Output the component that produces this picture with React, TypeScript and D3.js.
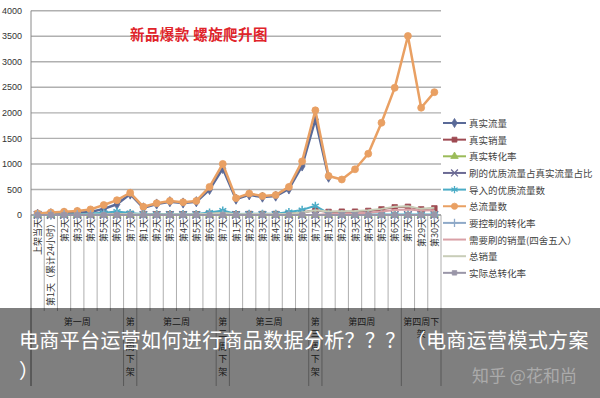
import * as d3 from "d3";

const W = 600;
const H = 398;

const categories = [
  "上架当天", "第1天（累计24小时）", "第2天", "第3天", "第4天", "第5天", "第6天", "第7天",
  "第1天", "第2天", "第3天", "第4天", "第5天", "第6天", "第7天",
  "第1天", "第2天", "第3天", "第4天", "第5天", "第6天", "第7天",
  "第1天", "第2天", "第3天", "第4天", "第5天", "第6天", "第7天", "第29天", "第30天",
];

const groupNames = ["第一周", "第一周下架", "第二周", "第二周下架", "第三周", "第三周下架", "第四周", "第四周下架"];
const groupSizes = [7, 1, 6, 1, 6, 1, 6, 3];

const yTicks = [0, 500, 1000, 1500, 2000, 2500, 3000, 3500, 4000];

// 总流量数
const totalTraffic = [30, 50, 65, 80, 110, 195, 290, 435, 160, 230, 275, 250, 275, 550, 1000, 330, 420, 370, 390, 550, 1050, 2050, 765, 695, 895, 1200, 1805, 2490, 3505, 2100, 2405];
// 真实流量
const realTraffic = [15, 25, 35, 45, 60, 120, 210, 410, 140, 215, 260, 235, 260, 500, 910, 310, 395, 350, 370, 510, 960, 1870, 740, null, null, null, null, null, null, null, null];
// 导入的优质流量数
const importedTraffic = [5, 5, 8, 10, 30, 45, 70, 40, 15, 15, 20, 20, 20, 50, 90, 20, 25, 25, 25, 60, 100, 180, 30, 10, 10, 10, 10, 10, 10, 10, 10];
// 真实销量
const realSales = [2, 3, 4, 5, 8, 10, 14, 20, 8, 12, 14, 13, 14, 25, 45, 15, 20, 18, 19, 25, 50, 95, 60, 65, 65, 80, 110, 150, 160, 110, 130];
// 需要刷的销量
const fakeSales = [0, 0, 0, 0, 0, 0, 0, 0, 0, 0, 0, 0, 0, 0, 0, 0, 0, 0, 0, 0, 0, 0, 20, 25, 30, 45, 70, 100, 110, 90, 95];
// 总销量
const totalSales = [2, 3, 4, 5, 8, 10, 14, 20, 8, 12, 14, 13, 14, 25, 45, 15, 20, 18, 19, 25, 50, 95, 70, 75, 80, 95, 120, 160, 170, 120, 140];
// 转化率类 (比例, 贴近 0)
const realConv = [0.1, 0.1, 0.1, 0.1, 0.1, 0.1, 0.1, 0.1, 0.1, 0.1, 0.1, 0.1, 0.1, 0.1, 0.1, 0.1, 0.1, 0.1, 0.1, 0.1, 0.1, 0.1, 0.1, 0.1, 0.1, 0.1, 0.1, 0.1, 0.1, 0.1, 0.1];
const fakeRatio = [0.3, 0.2, 0.2, 0.2, 0.5, 0.4, 0.3, 0.1, 0.1, 0.1, 0.1, 0.1, 0.1, 0.1, 0.1, 0.1, 0.1, 0.1, 0.1, 0.1, 0.1, 0.1, 0.1, 0.1, 0.1, 0.1, 0.1, 0.1, 0.1, 0.1, 0.1];
const targetConv = [0.1, 0.1, 0.1, 0.1, 0.1, 0.1, 0.1, 0.1, 0.1, 0.1, 0.1, 0.1, 0.1, 0.1, 0.1, 0.1, 0.1, 0.1, 0.1, 0.1, 0.1, 0.1, 0.1, 0.1, 0.1, 0.1, 0.1, 0.1, 0.1, 0.1, 0.1];
const totalConv = [0.1, 0.1, 0.1, 0.1, 0.1, 0.1, 0.1, 0.1, 0.1, 0.1, 0.1, 0.1, 0.1, 0.1, 0.1, 0.1, 0.1, 0.1, 0.1, 0.1, 0.1, 0.1, 0.1, 0.1, 0.1, 0.1, 0.1, 0.1, 0.1, 0.1, 0.1];

const series = [
  { name: "真实流量", color: "#5a6a98", symbol: d3.symbolDiamond, size: 30, fill: true, values: realTraffic, lw: 2.5 },
  { name: "真实销量", color: "#9e4a52", symbol: d3.symbolSquare, size: 30, fill: true, values: realSales, lw: 2 },
  { name: "真实转化率", color: "#9bbb59", symbol: d3.symbolTriangle, size: 30, fill: true, values: realConv, lw: 2 },
  { name: "刷的优质流量占真实流量占比", color: "#6b6a94", symbol: d3.symbolTimes || d3.symbolCross, size: 40, fill: false, values: fakeRatio, lw: 2 },
  { name: "导入的优质流量数", color: "#4bacc6", symbol: d3.symbolAsterisk || d3.symbolStar, size: 45, fill: false, values: importedTraffic, lw: 2 },
  { name: "总流量数", color: "#e9a063", symbol: d3.symbolCircle, size: 38, fill: true, values: totalTraffic, lw: 2.5 },
  { name: "要控制的转化率", color: "#8ea9c8", symbol: d3.symbolPlus || d3.symbolCross, size: 30, fill: false, values: targetConv, lw: 2 },
  { name: "需要刷的销量(四舍五入）", color: "#d9a0a6", symbol: null, size: 0, fill: false, values: fakeSales, lw: 2 },
  { name: "总销量", color: "#c8cdb8", symbol: null, size: 0, fill: false, values: totalSales, lw: 2 },
  { name: "实际总转化率", color: "#9a96a8", symbol: d3.symbolSquare, size: 25, fill: true, values: totalConv, lw: 2 },
];

const left = 31;
const right = 441;
const y0 = 215;
const yTop = 10.7;
const levelBottom = 311;
const groupBottom = 386;

const cjk = "'Noto Sans CJK SC', 'Noto Sans', sans-serif";

export default function App() {
  const x = d3.scaleBand<number>().domain(d3.range(categories.length)).range([left, right]).padding(0);
  const y = d3.scaleLinear().domain([0, 4000]).range([y0, yTop]);
  const cx = (i: number) => (x(i) as number) + x.bandwidth() / 2;

  const line = d3
    .line<number | null>()
    .defined((d) => d != null)
    .x((_, i) => cx(i))
    .y((d) => y(d as number));

  // group boundaries
  const groupStarts: number[] = [];
  let acc = 0;
  groupSizes.forEach((n) => {
    groupStarts.push(acc);
    acc += n;
  });

  const bw = x.bandwidth();
  const edgeX = (i: number) => left + bw * i;

  const groupFont = 9;

  return (
    <svg width={W} height={H} style={{ position: "absolute", left: 0, top: 0, background: "#fff" }}>
      <rect x={0} y={0} width={W} height={H} fill="#fff" />

      {/* gridlines */}
      {yTicks.map((t) => (
        <g key={t}>
          <line x1={left} x2={right} y1={y(t)} y2={y(t)} stroke={t === 0 ? "#8a8a8a" : "#b0b0b0"} strokeWidth={1.4} />
          <text x={22} y={y(t)} dy="0.35em" textAnchor="end" fontSize={9} fill="#333" fontFamily="'Liberation Sans', Arial, sans-serif">
            {t}
          </text>
        </g>
      ))}

      {/* y axis */}
      <line x1={left} x2={left} y1={yTop} y2={groupBottom} stroke="#8a8a8a" strokeWidth={1} />

      {/* category separators */}
      {d3.range(categories.length + 1).map((i) => {
        const isGroupEdge = groupStarts.includes(i) || i === categories.length;
        return (
          <line
            key={"sep" + i}
            x1={edgeX(i)}
            x2={edgeX(i)}
            y1={y0}
            y2={isGroupEdge ? groupBottom : levelBottom}
            stroke="#9a9a9a"
            strokeWidth={0.8}
          />
        );
      })}

      {/* category labels */}
      {categories.map((c, i) => (
        <text
          key={"cat" + i}
          transform={`translate(${cx(i)},${y0 + 4}) rotate(-90)`}
          textAnchor="end"
          dominantBaseline="central"
          fontSize={9}
          fill="#333"
          fontFamily={cjk}
        >
          {c}
        </text>
      ))}

      {/* group labels */}
      {groupNames.map((g, k) => {
        const x0 = edgeX(groupStarts[k]);
        const w = bw * groupSizes[k];
        const perLine = Math.max(1, Math.floor((w - 2) / groupFont));
        const chars = Array.from(g);
        const lines: string[] = [];
        for (let j = 0; j < chars.length; j += perLine) lines.push(chars.slice(j, j + perLine).join(""));
        return (
          <text key={"grp" + k} textAnchor="middle" fontSize={groupFont} fill="#333" fontFamily={cjk}>
            {lines.map((l, j) => (
              <tspan key={j} x={x0 + w / 2} y={321 + j * 12.5} dominantBaseline="central">
                {l}
              </tspan>
            ))}
          </text>
        );
      })}

      {/* series */}
      {series.map((s) => {
        const sym = s.symbol ? d3.symbol().type(s.symbol).size(s.size)() : null;
        return (
          <g key={s.name}>
            <path d={line(s.values) || ""} fill="none" stroke={s.color} strokeWidth={s.lw} strokeLinejoin="round" />
            {sym &&
              s.values.map((v, i) =>
                v == null ? null : (
                  <path
                    key={i}
                    d={sym}
                    transform={`translate(${cx(i)},${y(v)})`}
                    fill={s.fill ? s.color : "none"}
                    stroke={s.color}
                    strokeWidth={s.fill ? 0.8 : 1.5}
                  />
                )
              )}
          </g>
        );
      })}

      {/* title */}
      <text x={130} y={33} dominantBaseline="central" fontSize={14.5} fontWeight={700} letterSpacing={0.4} fill="#e0242a" fontFamily={cjk}>
        新品爆款 螺旋爬升图
      </text>

      {/* legend */}
      {series.map((s, k) => {
        const ly = 123 + k * 16.65;
        const sym = s.symbol ? d3.symbol().type(s.symbol).size(s.size * 0.8)() : null;
        return (
          <g key={"lg" + k}>
            <line x1={443} x2={466} y1={ly} y2={ly} stroke={s.color} strokeWidth={2} />
            {sym && (
              <path
                d={sym}
                transform={`translate(454.5,${ly})`}
                fill={s.fill ? s.color : "none"}
                stroke={s.color}
                strokeWidth={s.fill ? 0.8 : 1.3}
              />
            )}
            <text x={469} y={ly} dominantBaseline="central" fontSize={9.5} fill="#444" fontFamily={cjk}>
              {s.name}
            </text>
          </g>
        );
      })}

      {/* overlay caption */}
      <rect x={0} y={308} width={W} height={H - 308} fill="rgba(0,0,0,0.5)" />
      <text x={19} y={339} dominantBaseline="central" fontSize={20} letterSpacing={0.35} fill="#fff" fontFamily={cjk}>
        电商平台运营如何进行商品数据分析？？？（电商运营模式方案
      </text>
      <text x={19} y={369} dominantBaseline="central" fontSize={20} fill="#fff" fontFamily={cjk}>
        ）
      </text>
      <text x={472} y={374} dominantBaseline="central" fontSize={17} fill="rgba(255,255,255,0.35)" fontFamily={cjk}>
        知乎 @花和尚
      </text>
    </svg>
  );
}
